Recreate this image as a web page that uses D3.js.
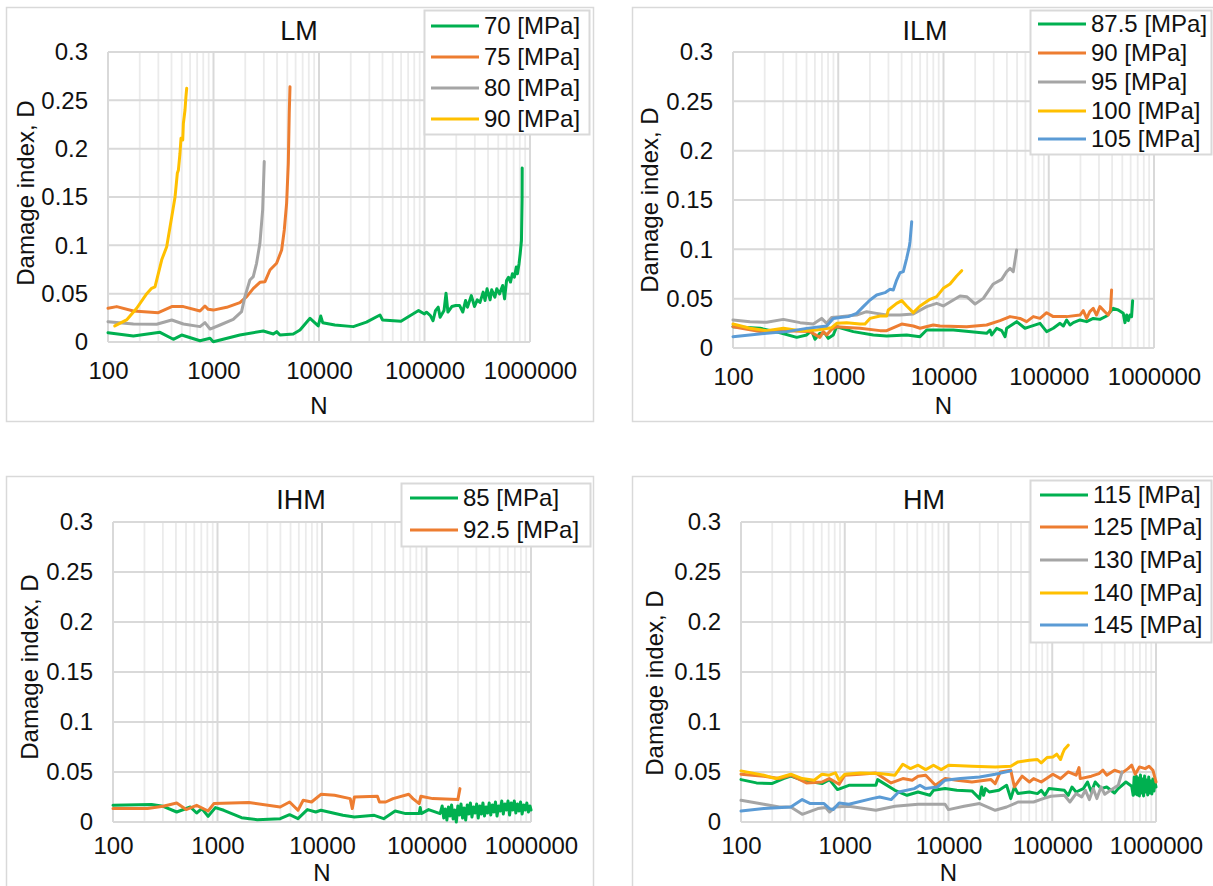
<!DOCTYPE html>
<html>
<head>
<meta charset="utf-8">
<script src="https://cdn.jsdelivr.net/npm/d3@7/dist/d3.min.js"></script>
<style>
  html, body { margin: 0; padding: 0; background: #fff; }
  svg { display: block; font-family: "Liberation Sans", Arial, sans-serif; }
</style>
</head>
<body>
<svg id="chart" width="1213" height="886"></svg>
<script>
// ---- axis ticks ----
const xTicks = [100, 1000, 10000, 100000, 1000000];
const yTicks = [0, 0.05, 0.1, 0.15, 0.2, 0.25, 0.3];
const yTickLabels = ["0", "0.05", "0.1", "0.15", "0.2", "0.25", "0.3"];

// ---- LM: [N, D] ----
const lm70 = [[100,0.0096],[174,0.0062],[311,0.010],[416,0.0028],[499,0.0072],[745,0.0013],[927,0.0038],[995,0.0003],[1778,0.0072],[2965,0.0114],[3690,0.0083],[3972,0.0107],[4266,0.0072],[5702,0.0083],[6607,0.0124],[8222,0.0245],[9840,0.0166],[10375,0.0269],[10839,0.020],[14125,0.0175],[21135,0.0159],[28184,0.0205],[37844,0.0279],[40087,0.0228],[59840,0.0215],[87902,0.0325],[100000,0.029],[104472,0.0308],[113763,0.0273],[120504,0.022],[127057,0.0325],[134896,0.036],[140605,0.0256],[153109,0.0325],[159955,0.0505],[166725,0.031],[181551,0.0367],[197697,0.0377],[215278,0.0377],[230675,0.031],[244906,0.0429],[255270,0.036],[277971,0.048],[297852,0.0367],[316228,0.0436],[335738,0.041],[359749,0.0516],[374973,0.0429],[391742,0.055],[418794,0.0436],[433511,0.054],[464515,0.0464],[484172,0.055],[514040,0.0498],[550808,0.0585],[574116,0.0446],[599791,0.0637],[625173,0.067],[653131,0.062],[680769,0.0706],[711214,0.067],[741310,0.0775],[760326,0.0706],[787046,0.081],[807235,0.0913],[829851,0.105],[841400,0.147],[843335,0.18]];
const lm75 = [[100,0.0349],[121,0.0366],[174,0.032],[300,0.0303],[402,0.0366],[518,0.0366],[745,0.032],[830,0.0372],[891,0.0338],[995,0.033],[1334,0.0359],[1778,0.0407],[2065,0.0469],[2388,0.0555],[2754,0.0617],[3076,0.0624],[3428,0.0745],[3963,0.0814],[4426,0.0952],[4688,0.1159],[4932,0.1435],[5117,0.1849],[5224,0.2366],[5309,0.2641]];
const lm80 = [[100,0.021],[174,0.0186],[289,0.0183],[402,0.0228],[518,0.0186],[745,0.0159],[830,0.020],[927,0.0134],[1153,0.0176],[1538,0.0234],[1845,0.0314],[1986,0.0469],[2213,0.0641],[2382,0.0676],[2559,0.0814],[2754,0.1021],[2924,0.1366],[3027,0.1866]];
const lm90 = [[116,0.0166],[150,0.0228],[187,0.0349],[233,0.050],[259,0.0555],[279,0.057],[323,0.085],[360,0.0986],[402,0.1296],[432,0.150],[454,0.1745],[465,0.178],[481,0.195],[492,0.2107],[511,0.209],[518,0.226],[537,0.240],[548,0.2538],[557,0.2624]];

// ---- ILM ----
const ilm87 = [[100,0.0216],[181,0.020],[280,0.0155],[403,0.0108],[501,0.0132],[558,0.0176],[601,0.0088],[670,0.0149],[748,0.0149],[805,0.0098],[897,0.0132],[966,0.0216],[1390,0.0166],[2153,0.0132],[2884,0.0122],[4467,0.0132],[5984,0.0115],[6918,0.0182],[7998,0.0182],[12388,0.0182],[25704,0.0149],[27669,0.0182],[28708,0.0132],[31989,0.020],[35727,0.0176],[38459,0.0115],[39811,0.020],[49545,0.0267],[59429,0.020],[66374,0.0216],[82604,0.025],[95499,0.0166],[110408,0.020],[127938,0.025],[137721,0.0223],[147911,0.0284],[159221,0.0233],[171396,0.0257],[198153,0.0284],[229087,0.0267],[264850,0.030],[306196,0.029],[354813,0.0324],[410204,0.0402],[457088,0.0385],[510505,0.0351],[529663,0.0257],[549541,0.0334],[570164,0.0277],[591562,0.0334],[612350,0.0318],[626614,0.048]];
const ilm90 = [[100,0.0216],[181,0.0166],[324,0.0176],[537,0.0166],[670,0.0108],[721,0.0166],[776,0.0132],[865,0.0189],[966,0.0216],[1202,0.0209],[1611,0.020],[2495,0.0176],[2884,0.0176],[4009,0.0243],[5164,0.0223],[5984,0.020],[7998,0.0233],[9268,0.0223],[16596,0.0216],[25704,0.0233],[34435,0.0277],[42855,0.0318],[53333,0.030],[61660,0.0267],[71285,0.0318],[82604,0.030],[95499,0.0358],[110408,0.0318],[147911,0.0318],[198153,0.0334],[212814,0.0378],[229087,0.030],[245471,0.0368],[264850,0.0402],[284446,0.0334],[306196,0.0419],[341193,0.0368],[367282,0.0334],[386367,0.0385],[395367,0.0588]];
const ilm95 = [[100,0.0284],[145,0.0267],[209,0.026],[301,0.029],[434,0.0257],[579,0.0243],[695,0.030],[776,0.025],[865,0.031],[1040,0.0318],[1496,0.0334],[1862,0.0368],[2317,0.0351],[2884,0.0334],[3864,0.0334],[5164,0.0345],[6918,0.0419],[8610,0.0453],[9954,0.0426],[14355,0.0527],[16596,0.052],[19953,0.0446],[23878,0.0503],[29717,0.0649],[35727,0.0696],[39811,0.0774],[42855,0.0807],[46026,0.0774],[49545,0.0993]];
const ilm100 = [[100,0.0243],[145,0.020],[209,0.0176],[301,0.020],[434,0.0176],[624,0.0182],[865,0.0206],[966,0.025],[1202,0.0257],[1611,0.0243],[1795,0.0243],[2004,0.030],[2495,0.0324],[2884,0.0324],[2992,0.0385],[3589,0.0453],[4009,0.048],[4467,0.0426],[5164,0.0358],[5984,0.0426],[7447,0.0493],[8610,0.052],[9954,0.0605],[11535,0.0649],[13335,0.073],[14125,0.0757],[14894,0.0784]];
const ilm105 = [[100,0.0115],[209,0.0149],[324,0.0166],[501,0.0199],[776,0.0223],[897,0.030],[1040,0.031],[1247,0.0318],[1496,0.0351],[1730,0.0419],[2004,0.0486],[2317,0.0537],[2780,0.0561],[3105,0.0595],[3334,0.0588],[3589,0.0689],[3864,0.0763],[4150,0.0774],[4467,0.0909],[4732,0.1027],[4808,0.1078],[4989,0.128]];

// ---- IHM ----
const ihm85 = [[100,0.0167],[234,0.0174],[302,0.0157],[407,0.010],[550,0.015],[631,0.009],[708,0.0134],[813,0.0057],[955,0.0144],[1148,0.0117],[1698,0.0043],[2399,0.0023],[3981,0.0033],[4898,0.0073],[5888,0.0033],[7244,0.0124],[8710,0.010],[9772,0.0117],[15849,0.0067],[20417,0.005],[31623,0.0067],[38905,0.0033],[50119,0.011],[63096,0.0084],[85114,0.0084],[87096,0.0144],[89125,0.0084],[104713,0.0124],[134896,0.0084],[141254,0.016],[146218,0.004],[151356,0.013],[156675,0.002],[162181,0.015],[167880,0.006],[173780,0.017],[179887,0.003],[186209,0.012],[192752,0.0],[199526,0.016],[206538,0.007],[213796,0.018],[221309,0.004],[229087,0.014],[237137,0.002],[245471,0.017],[254097,0.008],[263027,0.019],[272270,0.005],[281838,0.015],[291743,0.009],[301995,0.018],[312608,0.004],[323594,0.016],[334965,0.008],[346737,0.019],[358922,0.006],[371535,0.015],[384592,0.009],[398107,0.019],[412098,0.007],[426580,0.017],[441570,0.010],[457088,0.020],[473151,0.006],[489779,0.016],[506991,0.011],[524807,0.021],[543250,0.008],[562341,0.018],[582103,0.012],[602560,0.021],[623735,0.007],[645654,0.019],[668344,0.012],[691831,0.021],[716143,0.009],[741310,0.018],[767361,0.011],[794328,0.020],[822243,0.008],[851138,0.017],[881049,0.012],[912011,0.019],[944061,0.010],[977237,0.016],[1000000,0.012]];
const ihm92 = [[100,0.0134],[214,0.0134],[302,0.0157],[407,0.019],[501,0.0124],[631,0.0167],[813,0.011],[923,0.0184],[1995,0.0194],[3981,0.015],[4898,0.020],[5888,0.0117],[6607,0.0217],[7943,0.020],[9772,0.0277],[13183,0.0267],[18621,0.0234],[19498,0.0134],[20417,0.025],[33884,0.0257],[35481,0.020],[40738,0.020],[47863,0.0234],[67608,0.0277],[74131,0.0234],[85114,0.0184],[88308,0.0257],[114815,0.0234],[199526,0.0224],[208930,0.0334]];

// ---- HM ----
const hm115 = [[100,0.0424],[141,0.0391],[198,0.0384],[257,0.0434],[302,0.0458],[389,0.0418],[603,0.0384],[713,0.0424],[851,0.0324],[1096,0.0367],[1995,0.0367],[2075,0.0424],[3048,0.0317],[3981,0.0267],[5093,0.030],[6607,0.0267],[7161,0.0317],[9268,0.0334],[12023,0.0317],[16827,0.0311],[19953,0.0234],[20893,0.035],[21777,0.0267],[22699,0.0334],[24717,0.030],[30620,0.0317],[36308,0.0367],[39811,0.0234],[43152,0.035],[46774,0.0284],[60256,0.030],[71945,0.0284],[78343,0.0317],[85114,0.0267],[92897,0.0334],[130918,0.0317],[142561,0.0267],[154882,0.035],[169824,0.030],[199526,0.0334],[218776,0.040],[238232,0.030],[259418,0.040],[295121,0.0334],[334965,0.035],[398107,0.029],[432514,0.0334],[512861,0.040],[583445,0.0357],[602560,0.0267],[616595,0.045],[630957,0.028],[645654,0.046],[660693,0.027],[676083,0.044],[691831,0.026],[707946,0.047],[724436,0.029],[741310,0.043],[758578,0.026],[776247,0.046],[794328,0.030],[812831,0.042],[831764,0.027],[851138,0.045],[870964,0.029],[891251,0.041],[912011,0.028],[933254,0.043],[954993,0.031],[977237,0.040],[1000000,0.035]];
const hm125 = [[100,0.0478],[166,0.0458],[234,0.0434],[302,0.0468],[427,0.0391],[603,0.040],[708,0.0434],[813,0.040],[883,0.0377],[1000,0.0468],[1413,0.0478],[1995,0.0491],[2799,0.0391],[3631,0.0434],[4467,0.0418],[5093,0.0458],[6026,0.0468],[7482,0.0367],[9268,0.0434],[12023,0.0418],[16827,0.040],[25704,0.0424],[28184,0.0384],[31623,0.0501],[39811,0.0518],[43152,0.0351],[51286,0.0458],[60256,0.040],[66069,0.0434],[78343,0.040],[101391,0.0478],[120226,0.0434],[142561,0.0501],[169824,0.0468],[181134,0.0544],[186209,0.0434],[238232,0.0458],[281838,0.0484],[307610,0.0518],[334965,0.0468],[398107,0.0518],[470977,0.0491],[537032,0.0534],[583445,0.0568],[630957,0.0478],[691831,0.0551],[785236,0.0534],[857038,0.0558],[933254,0.0518],[1000000,0.040]];
const hm130 = [[100,0.0217],[166,0.0177],[234,0.015],[302,0.015],[389,0.0077],[550,0.0134],[655,0.0144],[713,0.010],[813,0.015],[1096,0.0157],[1995,0.0117],[3048,0.0157],[5093,0.0177],[9268,0.0177],[10000,0.0124],[14125,0.0157],[19953,0.0184],[28184,0.0117],[36308,0.015],[46774,0.020],[66069,0.020],[81846,0.0234],[97051,0.0257],[130918,0.0267],[147911,0.020],[169824,0.0284],[192309,0.025],[208930,0.0317],[228034,0.0224],[248313,0.0334],[269153,0.0234],[295121,0.035],[320627,0.0277],[364754,0.0317],[432514,0.0367],[470977,0.0501]];
const hm140 = [[100,0.0511],[166,0.0468],[216,0.0434],[302,0.0478],[389,0.0434],[507,0.0418],[603,0.0478],[708,0.0468],[813,0.0491],[883,0.0418],[1000,0.0478],[1413,0.0491],[2168,0.0484],[3048,0.0468],[3631,0.0578],[4295,0.0534],[5093,0.0568],[6026,0.0524],[7161,0.0568],[8511,0.0524],[10000,0.0568],[16827,0.0558],[28184,0.0551],[39811,0.0558],[46774,0.0601],[60256,0.0618],[71945,0.0625],[78343,0.0591],[89125,0.0645],[101391,0.0651],[110408,0.0678],[120226,0.0625],[125893,0.0685],[130918,0.0725],[142561,0.0768]];
const hm145 = [[100,0.011],[166,0.0134],[302,0.015],[389,0.0224],[466,0.0184],[631,0.0184],[713,0.0134],[776,0.0124],[883,0.019],[1096,0.0177],[1820,0.0234],[2168,0.025],[2799,0.0224],[3311,0.030],[4677,0.0334],[5309,0.0367],[6026,0.0334],[7798,0.035],[9268,0.0418],[13032,0.0434],[19953,0.0451],[28184,0.0478],[39811,0.0511]];

// ---- series palette ----
const GREEN = "#00b050", ORANGE = "#ed7d31", GRAY = "#a5a5a5", YELLOW = "#ffc000", BLUE = "#5b9bd5";

const panels = [
  {
    title: "LM",
    series: [
      { label: "70 [MPa]", color: GREEN, data: lm70 },
      { label: "75 [MPa]", color: ORANGE, data: lm75 },
      { label: "80 [MPa]", color: GRAY, data: lm80 },
      { label: "90 [MPa]", color: YELLOW, data: lm90 }
    ],
    frame: { x: 6, y: 7, w: 587, h: 414 },
    plot: { l: 108, r: 530, t: 52, b: 342 },
    titlePos: [299, 40],
    legend: { x: 424, y: 10, w: 165, h: 124, rows: [26, 57, 88, 119], x1: 431, x2: 479, tx: 484 },
    yLabel: [26, 193],
    xPad: 20,
    nBase: 414
  },
  {
    title: "ILM",
    series: [
      { label: "87.5 [MPa]", color: GREEN, data: ilm87 },
      { label: "90 [MPa]", color: ORANGE, data: ilm90 },
      { label: "95 [MPa]", color: GRAY, data: ilm95 },
      { label: "100 [MPa]", color: YELLOW, data: ilm100 },
      { label: "105 [MPa]", color: BLUE, data: ilm105 }
    ],
    frame: { x: 632, y: 7, w: 620, h: 414 },
    plot: { l: 733, r: 1154, t: 52, b: 348 },
    titlePos: [925, 40],
    legend: { x: 1030, y: 10, w: 181, h: 144, rows: [24, 53, 82, 111, 139], x1: 1038, x2: 1086, tx: 1091 },
    yLabel: [650, 200],
    xPad: 20,
    nBase: 414
  },
  {
    title: "IHM",
    series: [
      { label: "85 [MPa]", color: GREEN, data: ihm85 },
      { label: "92.5 [MPa]", color: ORANGE, data: ihm92 }
    ],
    frame: { x: 6, y: 476, w: 587, h: 430 },
    plot: { l: 113, r: 531, t: 522, b: 822 },
    titlePos: [301, 509],
    legend: { x: 401, y: 483, w: 189, h: 63, rows: [498, 530], x1: 410, x2: 458, tx: 463 },
    yLabel: [30, 667],
    xPad: 15,
    nBase: 880.5
  },
  {
    title: "HM",
    series: [
      { label: "115 [MPa]", color: GREEN, data: hm115 },
      { label: "125 [MPa]", color: ORANGE, data: hm125 },
      { label: "130 [MPa]", color: GRAY, data: hm130 },
      { label: "140 [MPa]", color: YELLOW, data: hm140 },
      { label: "145 [MPa]", color: BLUE, data: hm145 }
    ],
    frame: { x: 632, y: 476, w: 620, h: 430 },
    plot: { l: 741, r: 1156, t: 522, b: 822 },
    titlePos: [924, 509],
    legend: { x: 1030, y: 480, w: 181, h: 162, rows: [495, 527, 560, 593, 625], x1: 1040, x2: 1088, tx: 1093 },
    yLabel: [655, 683],
    xPad: 15,
    nBase: 880.5
  }
];

const svg = d3.select("#chart");
const FONT = 24;

panels.forEach(p => {
  const g = svg.append("g");

  // chart frame
  g.append("rect")
    .attr("x", p.frame.x + 0.5).attr("y", p.frame.y + 0.5)
    .attr("width", p.frame.w).attr("height", p.frame.h)
    .attr("fill", "#fff").attr("stroke", "#d9d9d9").attr("stroke-width", 1.5);

  const x = d3.scaleLog().domain([100, 1000000]).range([p.plot.l, p.plot.r]);
  const y = d3.scaleLinear().domain([0, 0.3]).range([p.plot.b, p.plot.t]);

  // minor vertical gridlines (2..9 within each decade)
  const minor = [];
  for (let e = 100; e < 1000000; e *= 10) {
    for (let k = 2; k <= 9; k++) minor.push(e * k);
  }
  g.append("g").selectAll("line").data(minor).join("line")
    .attr("x1", d => x(d)).attr("x2", d => x(d))
    .attr("y1", p.plot.t).attr("y2", p.plot.b)
    .attr("stroke", "#ebebeb").attr("stroke-width", 1.8);

  // major gridlines
  g.append("g").selectAll("line").data(xTicks).join("line")
    .attr("x1", d => x(d)).attr("x2", d => x(d))
    .attr("y1", p.plot.t).attr("y2", p.plot.b)
    .attr("stroke", "#d9d9d9").attr("stroke-width", 2);
  g.append("g").selectAll("line").data(yTicks).join("line")
    .attr("x1", p.plot.l).attr("x2", p.plot.r)
    .attr("y1", d => y(d)).attr("y2", d => y(d))
    .attr("stroke", "#d9d9d9").attr("stroke-width", 2);

  // axes (labels only)
  const xAxis = d3.axisBottom(x).tickValues(xTicks).tickFormat(d3.format("d")).tickSize(0).tickPadding(p.xPad);
  const yAxis = d3.axisLeft(y).tickValues(yTicks).tickFormat((d, i) => yTickLabels[i]).tickSize(0).tickPadding(20);
  const gx = g.append("g").attr("transform", `translate(0,${p.plot.b})`).call(xAxis);
  const gy = g.append("g").attr("transform", `translate(${p.plot.l},0)`).call(yAxis);
  [gx, gy].forEach(a => {
    a.select(".domain").remove();
    a.selectAll("text").attr("font-size", FONT).attr("fill", "#111").attr("font-family", "Liberation Sans, Arial, sans-serif");
  });

  // series lines
  const line = d3.line().x(d => x(d[0])).y(d => y(d[1]));
  p.series.forEach(s => {
    g.append("path").datum(s.data)
      .attr("d", line)
      .attr("fill", "none")
      .attr("stroke", s.color)
      .attr("stroke-width", 3)
      .attr("stroke-linejoin", "round")
      .attr("stroke-linecap", "round");
  });

  // title
  g.append("text").attr("x", p.titlePos[0]).attr("y", p.titlePos[1])
    .attr("text-anchor", "middle").attr("font-size", 27).attr("fill", "#111")
    .text(p.title);

  // axis titles
  g.append("text").attr("x", (p.plot.l + p.plot.r) / 2).attr("y", p.nBase)
    .attr("text-anchor", "middle").attr("font-size", FONT).attr("fill", "#111")
    .text("N");
  g.append("text")
    .attr("transform", `translate(${p.yLabel[0]},${p.yLabel[1]}) rotate(-90)`)
    .attr("dy", "0.35em").attr("text-anchor", "middle").attr("font-size", FONT).attr("fill", "#111")
    .text("Damage index, D");

  // legend
  const L = p.legend;
  const lg = g.append("g");
  lg.append("rect").attr("x", L.x + 0.5).attr("y", L.y + 0.5).attr("width", L.w).attr("height", L.h)
    .attr("fill", "#fff").attr("stroke", "#d9d9d9").attr("stroke-width", 2);
  const rows = lg.selectAll("g.row").data(p.series).join("g").attr("class", "row");
  rows.append("line")
    .attr("x1", L.x1).attr("x2", L.x2)
    .attr("y1", (d, i) => L.rows[i]).attr("y2", (d, i) => L.rows[i])
    .attr("stroke", d => d.color).attr("stroke-width", 3);
  rows.append("text")
    .attr("x", L.tx).attr("y", (d, i) => L.rows[i]).attr("dy", "0.35em")
    .attr("font-size", FONT).attr("fill", "#111")
    .text(d => d.label);
});
</script>
</body>
</html>
